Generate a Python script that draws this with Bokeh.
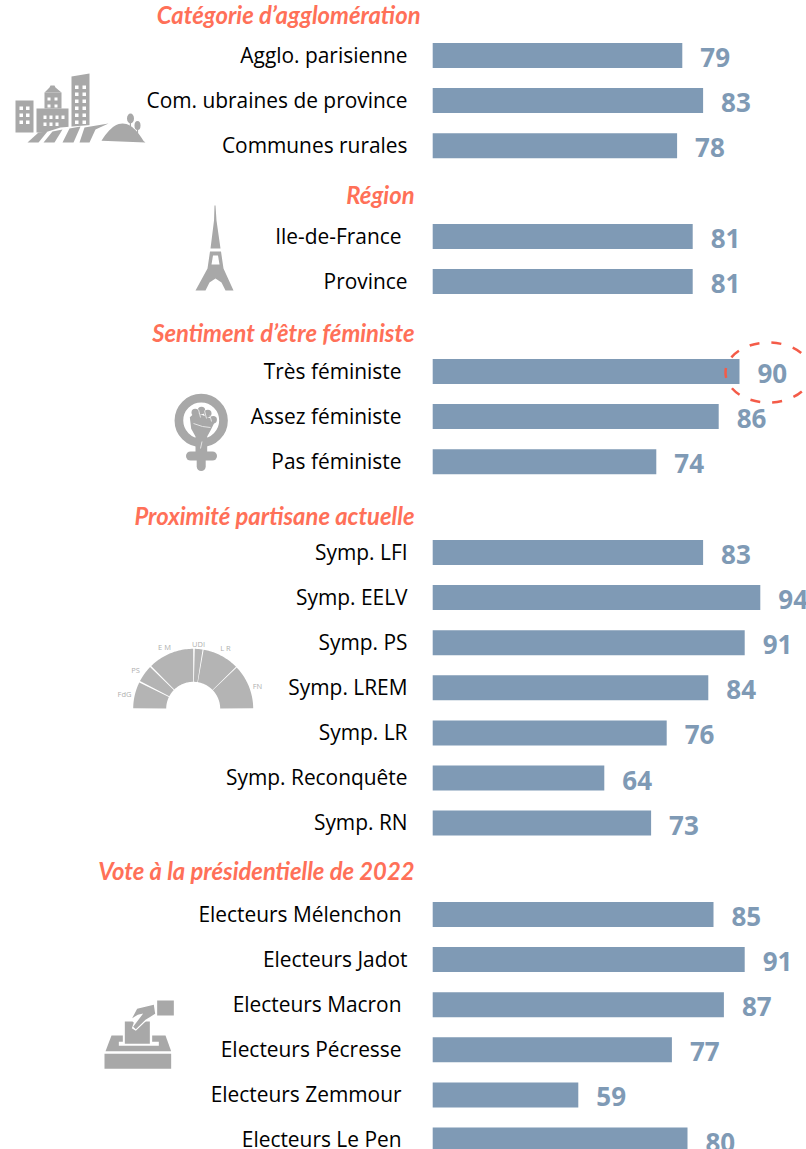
import numpy as np
from bokeh.plotting import figure
from bokeh.models import Range1d, ColumnDataSource
from bokeh.core.properties import value
from bokeh.embed import file_html
from bokeh.resources import INLINE

# ---------- data ----------
group_titles = ["Catégorie d’agglomération", "Région", "Sentiment d’être féministe",
                "Proximité partisane actuelle", "Vote à la présidentielle de 2022"]
agglo_labels = ["Agglo. parisienne", "Com. ubraines de province", "Communes rurales"]
agglo_values = [79, 83, 78]
region_labels = ["Ile-de-France", "Province"]
region_values = [81, 81]
feminist_labels = ["Très féministe", "Assez féministe", "Pas féministe"]
feminist_values = [90, 86, 74]
party_labels = ["Symp. LFI", "Symp. EELV", "Symp. PS", "Symp. LREM", "Symp. LR", "Symp. Reconquête", "Symp. RN"]
party_values = [83, 94, 91, 84, 76, 64, 73]
vote_labels = ["Electeurs Mélenchon", "Electeurs Jadot", "Electeurs Macron", "Electeurs Pécresse",
               "Electeurs Zemmour", "Electeurs Le Pen"]
vote_values = [85, 91, 87, 77, 59, 80]
hemicycle_labels = ["FdG", "PS", "E M", "UDI", "L R", "FN"]

# ---------- layout ----------
W, H = 806, 1149
BAR_COLOR = "#7F9AB5"
TITLE_COLOR = "#FF7058"
ICON = "#A8A8A8"
BASE = 31                      # bars start at this value in the original
PX_PER_UNIT = 5.2
ZERO_PX = 271
group_first_y = [55, 236, 371, 552, 914]
title_y = [14, 194, 332, 515, 870]
title_right = [420, 414, 414, 414, 414]
STEP = 45.1
label_right = {"Agglo. parisienne": 407, "Com. ubraines de province": 407, "Communes rurales": 407,
               "Ile-de-France": 401, "Province": 407, "Très féministe": 401, "Assez féministe": 401,
               "Pas féministe": 401, "Electeurs Mélenchon": 401, "Electeurs Jadot": 407,
               "Electeurs Macron": 401, "Electeurs Pécresse": 401, "Electeurs Zemmour": 401,
               "Electeurs Le Pen": 401}

p = figure(width=W, height=H, output_backend="svg", toolbar_location=None,
           x_range=Range1d(-ZERO_PX / PX_PER_UNIT, (W - ZERO_PX) / PX_PER_UNIT),
           y_range=Range1d(H, 0), min_border=0, outline_line_color=None,
           background_fill_color="white", border_fill_color="white",
           margin=(0, 0, 0, 0))
p.axis.visible = False
p.grid.visible = False
p.extra_x_ranges = {"px": Range1d(0, W)}

groups = [(agglo_labels, agglo_values), (region_labels, region_values), (feminist_labels, feminist_values),
          (party_labels, party_values), (vote_labels, vote_values)]
labs, vals, ys, rights = [], [], [], []
for (l, v), y0 in zip(groups, group_first_y):
    for i, (a, b) in enumerate(zip(l, v)):
        labs.append(a); vals.append(b); ys.append(y0 + i * STEP); rights.append(label_right.get(a, 407))

src = ColumnDataSource(dict(label=labs, val=vals, y=ys, right=rights, base=[BASE] * len(vals),
                            txt=[str(v) for v in vals]))
p.hbar(y="y", left="base", right="val", height=25, color=BAR_COLOR, line_color=None, source=src)
p.text(x="right", y="y", text="label", source=src, x_range_name="px", y_offset=-1, text_align="right",
       text_baseline="middle", text_font=value("Open Sans"), text_font_size="20.9px", text_color="#000000")
p.text(x="val", y="y", text="txt", source=src, x_offset=18, y_offset=2, text_align="left",
       text_baseline="middle", text_font=value("Open Sans"), text_font_style="bold",
       text_font_size="26px", text_color=BAR_COLOR)
p.text(x=title_right, y=title_y, text=group_titles, x_range_name="px", text_align="right",
       text_baseline="middle", text_font=value("Lato"), text_font_style="bold italic",
       text_font_size="23.8px", text_color=TITLE_COLOR)

# dashed highlight round the 90
p.ellipse(x=[768], y=[372], width=[86], height=[60], x_range_name="px", fill_color=None,
          line_color="#F45B48", line_width=2.5, line_dash="10 12")


def poly(pts, color=ICON):
    p.patch([a for a, _ in pts], [b for _, b in pts], x_range_name="px", fill_color=color, line_color=None)


def rect(x0, y0, x1, y1, color=ICON):
    poly([(x0, y0), (x1, y0), (x1, y1), (x0, y1)], color)


# --- city icon
rect(15, 100, 33, 132)
rect(36, 108, 68, 132)
rect(44, 92, 61, 108)
poly([(44, 92), (49, 87), (50, 85), (54, 85), (55, 87), (61, 92)])
poly([(71, 76), (89, 73), (89, 127), (71, 127)])
for wx in (19, 25.5):
    for wy in (106, 113, 120):
        rect(wx, wy, wx + 3.5, wy + 3.5, "white")
for wx in (47, 54):
    for wy in (97, 104):
        rect(wx, wy, wx + 3, wy + 3, "white")
for wx in (43, 49, 55, 61):
    rect(wx, 115, wx + 3, 118.5, "white")
for wx in (43, 49, 55):
    rect(wx, 122, wx + 3, 125.5, "white")
for wx in (74.5, 82):
    for wy in (85, 92, 99, 106, 113, 120):
        rect(wx, wy, wx + 3.5, wy + 3.5, "white")
poly([(38, 134), (60, 127), (108, 123), (85, 132), (70, 134)], "white")
poly([(27, 142), (38, 132), (47, 131), (38, 142)])
poly([(43, 142), (52, 131), (62, 129), (54, 142)])
poly([(62, 142), (69, 128), (80, 126), (73, 142)])
poly([(79, 142), (84, 127), (108, 123), (95, 129), (89, 142)])
hx = np.linspace(101, 145, 24)
hy = 142 - 19 * np.clip(1 - ((hx - 122) / 22) ** 2, 0, 1)
poly(list(zip(hx, hy)))
rect(129.3, 118, 130.5, 126)
rect(136.5, 127, 137.6, 133)
p.ellipse(x=[130, 137], y=[118, 125], width=[7, 6], height=[10, 9], x_range_name="px", color=ICON, line_color=None)

# --- Eiffel tower
poly([(214, 205), (215, 205), (216, 220), (220, 248), (210, 248), (213.5, 220)])
poly([(209.5, 251), (220.5, 251), (223, 268), (233, 290), (225, 290), (221, 282), (215, 278),
      (209, 282), (205, 290), (195, 290), (207, 268)])
poly([(212.5, 255), (217.5, 255), (219, 264), (211, 264)], "white")

# --- feminist icon
p.circle(x=[200.7], y=[420], radius=[22.3], x_range_name="px", fill_color=None, line_color=ICON, line_width=8.7)
poly([(189.3, 416.7), (195, 411.7), (215, 420), (210, 430), (206.7, 436), (206.7, 452), (195, 452),
      (195, 436), (190.7, 428.3)])
p.circle(x=[194.7, 201, 207.3, 212.7], y=[412, 410, 413, 419.3], radius=[3.7, 3.7, 3.7, 3.7], x_range_name="px",
         color=ICON, line_color=None)
p.line([200.7, 200.7], [450, 466], x_range_name="px", line_color=ICON, line_width=9, line_cap="round")
p.line([190, 212], [455.5, 455.5], x_range_name="px", line_color=ICON, line_width=9, line_cap="round")
p.multi_line([[198, 200], [204, 206], [209.5, 211], [193, 202, 210], [201.5, 200]],
             [[409, 417], [410, 418], [415, 421], [423, 426, 427], [441, 448]], x_range_name="px",
             line_color="#E4E4E4", line_width=1)

# --- hemicycle
cx, cy, r0, r1 = 192.7, 708.3, 27, 60
bounds = [(0.5, 43.5), (44.5, 80), (81, 88.5), (90, 134.5), (136, 152.5), (154, 179.5)]
for a0, a1 in bounds:
    a = np.radians(np.linspace(a0, a1, 30))
    xs = np.r_[cx + r1 * np.cos(a), cx + r0 * np.cos(a[::-1])]
    ysw = np.r_[cy - r1 * np.sin(a), cy - r0 * np.sin(a[::-1])]
    poly(list(zip(xs, ysw)), "#B4B4B4")
p.text(x=[124, 135, 164, 198, 225, 257], y=[693, 669, 646, 643, 647, 685], text=hemicycle_labels,
       x_range_name="px", text_align="center", text_baseline="middle", text_font=value("Open Sans"),
       text_font_size="7.5px", text_color="#AFAFAF")


# --- ballot box (outline)
def z(pts):
    return [(90 + a / 3, 985 + b / 3) for a, b in pts]


poly(z([(42, 205), (242, 205), (242, 250), (42, 250)]))
poly(z([(45, 197), (63, 150), (225, 150), (242, 197)]))
poly(z([(85, 181), (205, 181), (205, 169), (85, 169)]), "white")
poly(z([(97, 101), (185, 101), (185, 175), (97, 175)]), "white")
poly(z([(103, 108), (178, 108), (178, 175), (103, 175)]))
poly(z([(120, 100), (138, 68), (190, 55), (197, 87), (166, 107), (136, 136), (124, 128), (130, 112)]), "white")
poly(z([(125, 98), (140, 70), (190, 58), (194, 85), (165, 103), (136, 131), (128, 124), (158, 84), (142, 88)]))
poly(z([(200, 45), (250, 45), (250, 90), (200, 90)]))

open("out.html", "w").write(file_html(p, INLINE))
